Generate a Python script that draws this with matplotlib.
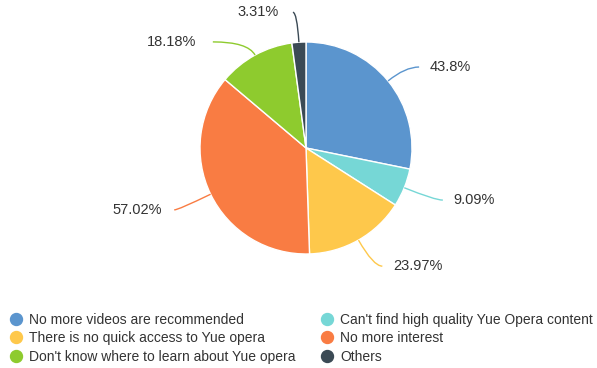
import numpy as np
import matplotlib
matplotlib.use('Agg')
import matplotlib.pyplot as plt
from matplotlib.path import Path
from matplotlib.patches import PathPatch
from matplotlib.lines import Line2D

plt.rcParams['font.family'] = ['Liberation Sans', 'DejaVu Sans']

# Data
labels = ['No more videos are recommended',
          "Can't find high quality Yue Opera content",
          'There is no quick access to Yue opera',
          'No more interest',
          "Don't know where to learn about Yue opera",
          'Others']
values = [43.8, 9.09, 23.97, 57.02, 18.18, 3.31]
colors = ['#5B95CE', '#76D7D6', '#FEC84B', '#F97C43', '#8ECB2E', '#3B4A55']

# leader line: radial length, horizontal length, gap to text
line_len1 = [22, 33, 30, 36, 15, 30]
line_len2 = [14, 8, 9, 4, 35, 4]
text_gap = [11, 11, 11, 12, 17, 14]

W, H = 597, 368
cx, cy, r = 306, 148, 106

fig = plt.figure(figsize=(W / 100, H / 100), dpi=100)
ax = fig.add_axes([0, 0, 1, 1])

# y axis is flipped, so counterclock in data runs clockwise on screen
wedges, _ = ax.pie(values, colors=colors, center=(cx, cy), radius=r,
                   startangle=-90, counterclock=True, frame=True,
                   wedgeprops=dict(edgecolor='white', linewidth=1))
ax.set_xlim(0, W)
ax.set_ylim(H, 0)
ax.set_aspect('equal')
ax.axis('off')

for w, v, c, l1, l2, g in zip(wedges, values, colors, line_len1, line_len2, text_gap):
    mid = np.deg2rad((w.theta1 + w.theta2) / 2)
    ux, uy = np.cos(mid), np.sin(mid)
    p0 = (cx + r * ux, cy + r * uy)
    p1 = (cx + (r + l1) * ux, cy + (r + l1) * uy)
    side = 1 if ux >= 0 else -1
    p2 = (p1[0] + side * l2, p1[1])
    path = Path([p0, p1, p2], [Path.MOVETO, Path.CURVE3, Path.CURVE3])
    ax.add_patch(PathPatch(path, facecolor='none', edgecolor=c, lw=1))
    ax.text(p2[0] + side * g, p2[1], f'{v:g}%', fontsize=10.5, color='#333333',
            ha='left' if side > 0 else 'right', va='center')

# Legend in two columns, filled row by row
handles = [Line2D([], [], marker='o', linestyle='none', markersize=8.6,
                  markerfacecolor=c, markeredgecolor=c) for c in colors]
order = [0, 2, 4, 1, 3, 5]
fig.legend([handles[i] for i in order], [labels[i] for i in order],
           ncol=2, loc='upper left', bbox_to_anchor=(0.0153, 0.149),
           frameon=False, fontsize=10, handlelength=1.0, handletextpad=0.43,
           columnspacing=1.8, labelspacing=0.3, borderaxespad=0,
           borderpad=0, labelcolor='#333333')

fig.savefig('out.png', dpi=100)
